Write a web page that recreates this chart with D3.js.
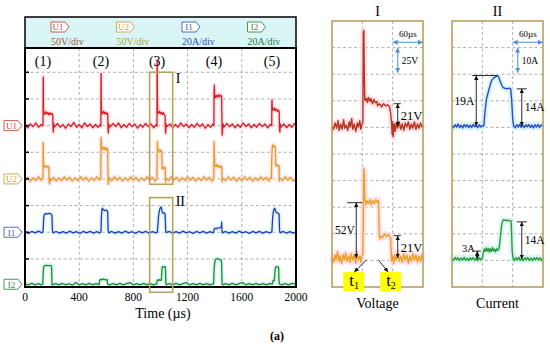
<!DOCTYPE html>
<html>
<head>
<meta charset="utf-8">
<script src="https://cdn.jsdelivr.net/npm/d3@7"></script>
<style>
  body { margin: 0; background: #fff; }
  text { font-family: "Liberation Serif", "Times New Roman", serif; }
</style>
</head>
<body>
<div id="chart"></div>
<script>
// ---- values ----
const channels = ["U1", "U2", "I1", "I2"];
const channelDiv = ["50V/div", "50V/div", "20A/div", "20A/div"];
const channelPerDiv = [50, 50, 20, 20];
const pulseLabels = ["(1)", "(2)", "(3)", "(4)", "(5)"];
const pulseTimes = [133, 561, 975, 1395, 1823];
const timeTicks = [0, 400, 800, 1200, 1600, 2000];

// overview traces: [time in µs, V or A]
const u1 = [
  [0,1],[20,-4],[40,3],[60,-2],[80,5],[100,-3],[120,2],[130,-1],[133,3],[134,88],[135,91],[136,40],[138,24],[145,21],[152,26],[160,22],[168,25],[176,20],[184,24],[192,21],[200,23],[205,19],[207,-6],[209,-12],[212,4],[216,-3],
  [240,4],[260,-3],[280,2],[300,-5],[320,3],[340,-2],[360,6],[380,-3],[400,2],[420,-4],[440,5],[460,-2],[480,3],[500,-4],[520,2],[540,-3],
  [556,2],[560,-1],[561,96],[562,98],[563,45],[565,25],[572,22],[580,27],[588,22],[596,25],[604,21],[610,23],[613,-8],[615,-14],[618,3],[624,-3],
  [650,4],[670,-2],[690,5],[710,-4],[730,2],[750,-3],[770,4],[790,-2],[810,3],[830,-5],[850,2],[870,-3],[890,4],[910,-2],[930,3],[950,-4],[968,2],
  [974,-1],[975,118],[976,121],[977,60],[979,26],[986,23],[993,27],[1000,22],[1008,25],[1015,21],[1022,24],[1030,20],[1034,18],[1036,-9],[1038,-14],[1041,3],[1046,-2],
  [1070,3],[1090,-4],[1110,2],[1130,-3],[1150,5],[1170,-2],[1190,3],[1210,-4],[1230,2],[1250,-3],[1270,4],[1290,-2],[1310,3],[1330,-5],[1350,2],[1370,-3],[1388,3],
  [1394,0],[1395,60],[1397,76],[1399,58],[1405,52],[1412,57],[1420,53],[1428,58],[1436,54],[1444,57],[1451,55],[1453,20],[1455,-18],[1458,-10],[1462,3],[1468,-3],
  [1490,4],[1510,-2],[1530,3],[1550,-4],[1570,2],[1590,-3],[1610,5],[1630,-2],[1650,3],[1670,-4],[1690,2],[1710,-3],[1730,4],[1750,-2],[1770,3],[1790,-4],[1810,2],
  [1821,0],[1822,44],[1823,48],[1825,32],[1832,29],[1840,33],[1848,28],[1856,31],[1864,27],[1872,29],[1876,26],[1878,-6],[1881,-12],[1884,3],[1890,-3],
  [1910,3],[1930,-4],[1950,2],[1970,-3],[1990,4],[2000,0]
];
const u2 = [
  [0,-2],[20,3],[40,-4],[60,2],[80,-3],[100,4],[120,-2],[131,1],[133,2],[134,66],[135,68],[136,30],[138,22],[146,25],[154,21],[162,24],[170,22],[176,23],[178,-4],[181,-9],[184,2],[190,-3],
  [210,3],[230,-4],[250,2],[270,-3],[290,4],[310,-2],[330,3],[350,-4],[370,2],[390,-3],[410,4],[430,-2],[450,3],[470,-4],[490,2],[510,-3],[530,4],[550,-2],
  [559,1],[561,75],[562,78],[564,62],[568,56],[575,60],[582,55],[590,59],[598,54],[606,58],[610,55],[612,15],[614,-10],[617,-4],[622,2],
  [640,-3],[660,4],[680,-2],[700,3],[720,-4],[740,2],[760,-3],[780,4],[800,-2],[820,3],[840,-4],[860,2],[880,-3],[900,4],[920,-2],[940,3],[960,-4],
  [973,1],[975,30],[977,70],[979,60],[981,53],[988,55],[995,50],[1002,54],[1009,51],[1011,30],[1013,19],[1018,22],[1025,19],[1032,22],[1035,18],[1037,-6],[1040,2],
  [1060,-3],[1080,4],[1100,-2],[1120,3],[1140,-4],[1160,2],[1180,-3],[1200,4],[1220,-2],[1240,3],[1260,-4],[1280,2],[1300,-3],[1320,4],[1340,-2],[1360,3],[1380,-4],
  [1393,1],[1395,50],[1396,70],[1398,40],[1400,26],[1408,23],[1416,27],[1424,22],[1432,25],[1440,21],[1448,24],[1453,22],[1455,-5],[1458,2],
  [1480,-3],[1500,4],[1520,-2],[1540,3],[1560,-4],[1580,2],[1600,-3],[1620,4],[1640,-2],[1660,3],[1680,-4],[1700,2],[1720,-3],[1740,4],[1760,-2],[1780,3],[1800,-4],[1812,2],
  [1819,1],[1821,35],[1824,58],[1828,64],[1834,60],[1842,62],[1848,58],[1850,30],[1852,24],[1860,27],[1868,23],[1875,25],[1877,-4],[1880,2],
  [1900,-3],[1920,4],[1940,-2],[1960,3],[1980,-4],[2000,1]
];
const i1 = [
  [0,0.5],[25,-0.8],[50,0.6],[75,-0.5],[100,0.8],[125,-0.4],[133,0.3],[135,4],[137,8.5],[139,11.5],[142,13],[147,13.8],[155,14],[165,13.8],[175,14.2],[185,13.9],[195,13.6],[199,12.5],[201,5],[203,1],[207,-0.5],
  [230,0.6],[255,-0.7],[280,0.5],[305,-0.6],[330,0.8],[355,-0.5],[380,0.4],[405,-0.8],[430,0.6],[455,-0.4],[480,0.7],[505,-0.6],[530,0.5],[550,-0.5],
  [560,0.2],[562,5],[564,11],[566,15],[569,17.5],[572,18],[576,17],[585,16.3],[595,16.6],[605,16.2],[610,15.5],[612,6],[614,1],[618,-0.4],
  [640,0.6],[665,-0.7],[690,0.5],[715,-0.6],[740,0.8],[765,-0.5],[790,0.4],[815,-0.8],[840,0.6],[865,-0.4],[890,0.7],[915,-0.6],[940,0.5],[965,-0.5],
  [977,0.3],[980,4],[984,10],[988,14],[994,17],[1000,18.5],[1005,19],[1009,17.5],[1013,15],[1020,14.3],[1028,14.6],[1033,14],[1036,8],[1038,1.5],[1042,-0.3],
  [1065,0.6],[1090,-0.7],[1115,0.5],[1140,-0.6],[1165,0.8],[1190,-0.5],[1215,0.4],[1240,-0.8],[1265,0.6],[1290,-0.4],[1315,0.7],[1340,-0.6],[1365,0.5],[1388,-0.5],
  [1393,0.4],[1396,2.5],[1402,3],[1412,2.6],[1422,3.4],[1432,3],[1442,3.6],[1449,4],[1451,7.5],[1453,3],[1456,-0.5],
  [1480,0.6],[1505,-0.7],[1530,0.5],[1555,-0.6],[1580,0.8],[1605,-0.5],[1630,0.4],[1655,-0.8],[1680,0.6],[1705,-0.4],[1730,0.7],[1755,-0.6],[1780,0.5],[1805,-0.5],
  [1822,0.3],[1825,6],[1828,11],[1832,15],[1837,17],[1842,18],[1847,17],[1853,15],[1861,14.5],[1869,14.2],[1875,13.8],[1877,6],[1879,1],[1883,-0.4],
  [1905,0.6],[1930,-0.7],[1955,0.5],[1980,-0.6],[2000,0.3]
];
const i2 = [
  [0,0.3],[25,-0.5],[50,0.6],[75,-0.4],[100,0.5],[120,-0.5],[131,0.2],[133,5],[135,10],[138,13],[145,14],[160,14.2],[175,14],[190,14.1],[196,13.3],[198,6],[199,0],[201,-0.5],
  [225,0.5],[250,-0.4],[275,0.6],[300,-0.5],[325,0.4],[350,-0.6],[375,1.2],[400,-0.4],[425,0.5],[450,-0.5],[475,0.6],[500,-0.4],[525,0.5],[545,-0.3],
  [548,0.3],[551,3],[560,3.8],[570,3.3],[580,4],[590,3.5],[600,3.2],[606,3.6],[609,0.2],
  [625,-0.5],[650,0.5],[675,-0.4],[700,0.6],[725,-0.5],[750,0.4],[775,1.2],[800,-0.4],[825,0.5],[850,-0.5],[875,0.6],[900,-0.4],[925,0.5],[950,-0.5],[970,0.4],
  [972,0.2],[975,2.5],[980,3.4],[987,2.7],[994,3.5],[1001,2.9],[1007,3.2],[1009,8],[1012,12.5],[1016,13.3],[1024,13],[1032,13.2],[1036,12.8],[1038,6],[1040,0.3],[1043,-0.3],
  [1065,0.5],[1090,-0.4],[1115,0.6],[1140,-0.5],[1165,0.4],[1190,1.2],[1215,-0.4],[1240,0.5],[1265,-0.5],[1290,0.6],[1315,-0.4],[1340,0.5],[1365,-0.5],[1385,0.4],
  [1392,0.3],[1394,7],[1397,13],[1401,17],[1408,18.8],[1420,19.2],[1435,18.7],[1446,18.2],[1451,16],[1453,6],[1455,0],[1458,-0.4],
  [1480,0.5],[1505,-0.4],[1530,0.6],[1555,-0.5],[1580,0.4],[1605,1.2],[1630,-0.4],[1655,0.5],[1680,-0.5],[1705,0.6],[1730,-0.4],[1755,0.5],[1780,-0.5],[1805,0.4],
  [1826,0.3],[1829,2.5],[1835,3],[1840,2.7],[1843,7],[1846,11],[1850,12.8],[1858,13.2],[1866,13],[1872,12.5],[1874,4],[1876,0.2],
  [1895,-0.4],[1920,0.5],[1945,-0.5],[1970,0.6],[2000,0.2]
];

// zoomed windows, time relative to t1 (µs)
const zoomTitles = ["I", "II"];
const zoomFooters = ["Voltage", "Current"];
const zoomPerDiv = [25, 10];
const zoomUnits = ["V", "A"];
const zoomTimeDiv = 60;
const zoomU1 = [
  [-60,0],[-57,-3],[-54,3],[-51,-2],[-48,5],[-46,-4],[-43,2],[-40,-3],[-37,6],[-35,-2],[-32,1],[-29,-4],[-26,4],[-24,-1],[-21,7],[-19,-3],[-16,2],[-13,-5],[-10,3],[-8,-1],[-5,5],[-3,-3],[-1,1],
  [1,4],[2,88],[3,90],[4,45],[5,24],[8,26],[10,22],[12,27],[15,23],[17,26],[20,21],[23,25],[26,22],[29,23],[30,19],[34,21],[38,18],[42,21],[46,19],[50,20],[54,18],[56,12],[58,2],[59,-8],[60,4],[61,-10],[63,2],
  [65,-5],[67,3],[70,-2],[73,4],[76,-3],[79,2],[82,-4],[85,3],[88,-1],[91,4],[94,-3],[97,2],[100,-2],[103,4],[106,-3],[109,2],[112,-2],[115,3],[118,-1],[120,1]
];
const zoomU2 = [
  [-60,1],[-57,-4],[-54,3],[-52,-2],[-49,6],[-46,-3],[-44,2],[-41,-5],[-38,3],[-35,-2],[-33,5],[-30,-3],[-27,2],[-24,-4],[-22,4],[-19,-2],[-16,3],[-13,-5],[-11,6],[-8,-2],[-5,2],[-3,-4],[-1,2],
  [1,3],[2,40],[3,84],[4,76],[5,56],[7,50],[9,54],[12,51],[15,55],[18,50],[21,54],[24,51],[27,55],[30,52],[32,54],[33,30],[34,18],[36,21],[40,19],[44,23],[48,20],[52,22],[56,19],[57,8],[58,-3],[60,2],
  [62,-5],[64,3],[67,-2],[70,5],[73,-3],[76,2],[79,-4],[82,4],[85,-2],[88,3],[91,-5],[94,2],[97,-3],[100,4],[103,-2],[106,3],[109,-4],[112,2],[115,-3],[118,3],[120,0]
];
const zoomI1 = [
  [-60,0.3],[-57,-0.6],[-54,0.5],[-51,-0.4],[-48,0.8],[-45,-0.5],[-42,0.3],[-39,-0.7],[-36,0.6],[-33,-0.3],[-30,0.5],[-27,-0.6],[-24,0.4],[-21,-0.5],[-18,0.7],[-15,-0.3],[-12,0.4],[-9,-0.6],[-6,0.5],[-3,-0.4],[0,0.2],
  [3,0],[5,5],[8,10],[12,13],[15,15],[18,17],[22,18],[26,18.5],[30,19],[32,18.5],[35,17],[38,15.5],[41,14.5],[45,14.2],[49,14],[53,14.3],[56,14],[58,10],[60,3],[62,0],
  [65,-0.6],[68,0.5],[71,-0.4],[74,0.7],[77,-0.5],[80,0.4],[83,-0.6],[86,0.5],[89,-0.3],[92,0.6],[95,-0.5],[98,0.4],[101,-0.7],[104,0.5],[107,-0.4],[110,0.6],[113,-0.5],[116,0.4],[120,0]
];
const zoomI2 = [
  [-60,0.2],[-57,-0.5],[-54,0.6],[-51,-0.3],[-48,0.5],[-45,-0.6],[-42,0.4],[-39,-0.4],[-36,0.7],[-33,-0.5],[-30,0.3],[-27,-0.6],[-24,0.5],[-21,-0.3],[-18,0.6],[-15,-0.5],[-12,0.4],[-9,-0.6],[-6,0.5],[-3,-0.3],[0,0.3],
  [2,2.5],[4,3.8],[6,2.8],[8,4.2],[10,3],[12,4],[14,2.6],[16,3.9],[18,2.9],[20,4.3],[22,3.1],[24,3.7],[26,2.7],[28,4],[30,3.2],[32,3.5],[34,5],[36,9],[38,12.5],[40,14.2],[42,14.8],[46,14.5],[50,14.6],[54,14.4],[57,14.3],[58,9],[59,3],[61,0.2],
  [63,-0.6],[66,0.5],[69,-0.4],[72,0.7],[75,-0.5],[78,0.3],[81,-0.6],[84,0.5],[87,-0.3],[90,0.6],[93,-0.5],[96,0.4],[99,-0.6],[102,0.5],[105,-0.3],[108,0.6],[111,-0.4],[114,0.5],[117,-0.5],[120,0.3]
];
// measured levels marked on the zoom windows
const u1Step = 21, u2Peak = 52, u2Step = 21;
const i1Peak = 19, i1Step = 14, i2Pre = 3, i2Step = 14;

// ---- drawing ----
const svg = d3.select("#chart").append("svg")
    .attr("width", 550).attr("height", 349);

const defs = svg.append("defs");
[["arrK", "#111"], ["arrB", "#4a90d8"]].forEach(([id, c]) => {
  defs.append("marker").attr("id", id)
      .attr("viewBox", "0 0 10 10").attr("refX", 10).attr("refY", 5)
      .attr("markerWidth", 5).attr("markerHeight", 5)
      .attr("orient", "auto-start-reverse")
    .append("path").attr("d", "M0,0L10,5L0,10z").attr("fill", c);
});

function tagPath(x, y, w, h) {
  return `M${x},${y}h${w - 4}l4,${h / 2}l-4,${h / 2}h${-(w - 4)}z`;
}

const traceColor = ["#d81e1e", "#e0a01c", "#2438b8", "#1f8a2a"];
const haloColor = ["#ffd9e6", "#ffd9e6", "#cbf3f0", "#cbf3f0"];
const tagColor = ["#c0503a", "#cfa24a", "#4060b8", "#3a8a4a"];
const legendTextColor = ["#9a5a3a", "#b0a040", "#3050b0", "#2a7a4a"];

// overview scope
const x = d3.scaleLinear().domain([0, 2000]).range([25, 296]);
const y = d3.scaleLinear().domain([0, 9]).range([285.6, 45.6]);
const baseDiv = [6, 4, 2, 0.05];
const traces = [u1, u2, i1, i2];

svg.append("rect").attr("x", 25).attr("y", 17).attr("width", 271).attr("height", 31)
    .attr("fill", "#d9f5f5").attr("stroke", "#000").attr("stroke-width", 1.5);

const leg = svg.append("g").selectAll("g").data(channels).join("g")
    .attr("transform", (d, i) => `translate(${51 + i * 65.5},22)`);
leg.append("path").attr("d", tagPath(0, 0, 18, 10))
    .attr("fill", "#fff").attr("stroke", (d, i) => tagColor[i]).attr("stroke-width", 0.9);
leg.append("text").attr("x", 7).attr("y", 8.3).attr("text-anchor", "middle")
    .attr("font-size", 9).attr("fill", (d, i) => tagColor[i]).text(d => d);
leg.append("text").attr("x", 0).attr("y", 23).attr("font-size", 10)
    .attr("fill", (d, i) => legendTextColor[i]).text((d, i) => channelDiv[i]);

const plot = svg.append("g");
defs.append("clipPath").attr("id", "clipMain")
  .append("rect").attr("x", 25).attr("y", 48).attr("width", 271).attr("height", 239);

plot.selectAll(".vg").data(timeTicks.slice(1, -1)).join("line")
    .attr("x1", d => x(d)).attr("x2", d => x(d)).attr("y1", 48).attr("y2", 287)
    .attr("stroke", "#9a9a9a").attr("stroke-width", 0.8).attr("stroke-dasharray", "3,2.5");
plot.selectAll(".hg").data(d3.range(1, 9)).join("line")
    .attr("x1", 25).attr("x2", 296).attr("y1", d => y(d)).attr("y2", d => y(d))
    .attr("stroke", "#9a9a9a").attr("stroke-width", 0.8).attr("stroke-dasharray", "3,2.5");

const traceG = plot.append("g").attr("clip-path", "url(#clipMain)");
traces.forEach((tr, i) => {
  const line = d3.line().x(d => x(d[0])).y(d => y(baseDiv[i] + d[1] / channelPerDiv[i]));
  traceG.append("path").attr("d", line(tr)).attr("fill", "none")
      .attr("stroke", haloColor[i]).attr("stroke-width", 4.5).attr("opacity", 0.7)
      .attr("stroke-linejoin", "round");
});
traces.forEach((tr, i) => {
  const line = d3.line().x(d => x(d[0])).y(d => y(baseDiv[i] + d[1] / channelPerDiv[i]));
  traceG.append("path").attr("d", line(tr)).attr("fill", "none")
      .attr("stroke", traceColor[i]).attr("stroke-width", 1.3).attr("stroke-linejoin", "round");
});

// left ticks
plot.selectAll(".tk").data(d3.range(1, 9)).join("line")
    .attr("x1", 25).attr("x2", 29).attr("y1", d => y(d)).attr("y2", d => y(d))
    .attr("stroke", "#000").attr("stroke-width", 1.5);

plot.append("rect").attr("x", 25).attr("y", 48).attr("width", 271).attr("height", 239)
    .attr("fill", "none").attr("stroke", "#000").attr("stroke-width", 2);

// channel markers on the left
const tags = svg.append("g").selectAll("g").data(channels).join("g")
    .attr("transform", (d, i) => `translate(4,${y(baseDiv[i]) - 5})`);
tags.append("path").attr("d", tagPath(0, 0, 18, 10))
    .attr("fill", "#fff").attr("stroke", (d, i) => tagColor[i]).attr("stroke-width", 0.9);
tags.append("text").attr("x", 7.5).attr("y", 8.3).attr("text-anchor", "middle")
    .attr("font-size", 9).attr("fill", (d, i) => tagColor[i]).text(d => d);

// pulse numbers
svg.selectAll(".pl").data(pulseLabels).join("text")
    .attr("x", (d, i) => x(pulseTimes[i])).attr("y", 66)
    .attr("text-anchor", "middle").attr("font-size", 14).text(d => d);

// zoom boxes
const boxColor = "#b9a160";
[[3.8, 8, "I", 7.6], [-0.25, 3.3, "II", 3.0]].forEach(([lo, hi, lab, ly]) => {
  svg.append("rect").attr("x", x(920)).attr("y", y(hi))
      .attr("width", x(1090) - x(920)).attr("height", y(lo) - y(hi))
      .attr("fill", "none").attr("stroke", boxColor).attr("stroke-width", 1.6);
  svg.append("text").attr("x", x(1090) + 3).attr("y", y(ly)).attr("font-size", 14).text(lab);
});

// x axis labels
svg.selectAll(".xt").data(timeTicks).join("text")
    .attr("x", d => x(d)).attr("y", 301).attr("text-anchor", "middle")
    .attr("font-size", 11.5).text(d => d);
svg.append("text").attr("x", 163).attr("y", 318).attr("text-anchor", "middle")
    .attr("font-size", 14).text("Time (\u00b5s)");
svg.append("text").attr("x", 277).attr("y", 340).attr("text-anchor", "middle")
    .attr("font-size", 12).attr("font-weight", "bold").text("(a)");

// zoom windows
const px = d3.scaleLinear().domain([-zoomTimeDiv, 2 * zoomTimeDiv]).range([0, 91]);
const py = d3.scaleLinear().domain([0, 10]).range([287, 21]);
const panelLeft = [332, 452];
const panelTraces = [
  [[zoomU1, 6.05, "#b8321c", "#ffd9e6"], [zoomU2, 1.09, "#ef9f22", "#ffd9e6"]],
  [[zoomI1, 6.05, "#2c48c8", "#cbf3f0"], [zoomI2, 1.05, "#2a9a3a", "#cbf3f0"]]
];

function dim(g, t, base, level, c0, c1) {
  const yb = py(base), yt = py(base + level);
  g.append("line").attr("x1", px(c0)).attr("x2", px(c1)).attr("y1", yt).attr("y2", yt)
      .attr("stroke", "#111").attr("stroke-width", 0.9);
  g.append("line").attr("x1", px(t)).attr("x2", px(t)).attr("y1", yt).attr("y2", yb)
      .attr("stroke", "#111").attr("stroke-width", 0.9)
      .attr("marker-start", "url(#arrK)").attr("marker-end", "url(#arrK)");
}

panelLeft.forEach((left, p) => {
  const g = svg.append("g").attr("transform", `translate(${left},0)`);
  const perDiv = zoomPerDiv[p];
  g.append("rect").attr("x", 0).attr("y", 21).attr("width", 91).attr("height", 266).attr("fill", "#fff");
  g.selectAll(".vg").data([0, zoomTimeDiv]).join("line")
      .attr("x1", d => px(d)).attr("x2", d => px(d)).attr("y1", 21).attr("y2", 287)
      .attr("stroke", "#9a9a9a").attr("stroke-width", 0.8).attr("stroke-dasharray", "3,2.5");
  g.selectAll(".hg").data(d3.range(1, 10)).join("line")
      .attr("x1", 0).attr("x2", 91).attr("y1", d => py(d)).attr("y2", d => py(d))
      .attr("stroke", "#9a9a9a").attr("stroke-width", 0.8).attr("stroke-dasharray", "3,2.5");

  panelTraces[p].forEach(([data, off, col, halo]) => {
    const line = d3.line().x(d => px(d[0])).y(d => py(off + d[1] / perDiv));
    g.append("path").attr("d", line(data)).attr("fill", "none")
        .attr("stroke", halo).attr("stroke-width", 6).attr("opacity", 0.75)
        .attr("stroke-linejoin", "round");
  });
  panelTraces[p].forEach(([data, off, col]) => {
    const line = d3.line().x(d => px(d[0])).y(d => py(off + d[1] / perDiv));
    g.append("path").attr("d", line(data)).attr("fill", "none")
        .attr("stroke", col).attr("stroke-width", 1.4).attr("stroke-linejoin", "round");
  });

  g.append("rect").attr("x", 0).attr("y", 21).attr("width", 91).attr("height", 266)
      .attr("fill", "none").attr("stroke", boxColor).attr("stroke-width", 1.6);

  // scale hints (one division each way)
  g.append("line").attr("x1", px(zoomTimeDiv)).attr("x2", px(2 * zoomTimeDiv))
      .attr("y1", py(9.2)).attr("y2", py(9.2)).attr("stroke", "#4a90d8").attr("stroke-width", 1)
      .attr("marker-start", "url(#arrB)").attr("marker-end", "url(#arrB)");
  g.append("text").attr("x", px(90)).attr("y", py(9.4)).attr("text-anchor", "middle")
      .attr("font-size", 9).text(zoomTimeDiv + "\u00b5s");
  g.append("line").attr("x1", px(zoomTimeDiv + 10)).attr("x2", px(zoomTimeDiv + 10))
      .attr("y1", py(9)).attr("y2", py(8.05)).attr("stroke", "#4a90d8").attr("stroke-width", 1)
      .attr("marker-start", "url(#arrB)").attr("marker-end", "url(#arrB)");
  g.append("text").attr("x", px(zoomTimeDiv + 18)).attr("y", py(8.38))
      .attr("font-size", 9.5).text(perDiv + zoomUnits[p]);

  g.append("text").attr("x", 45.5).attr("y", 16).attr("text-anchor", "middle")
      .attr("font-size", 14).text(zoomTitles[p]);
  g.append("text").attr("x", 45.5).attr("y", 308).attr("text-anchor", "middle")
      .attr("font-size", 14).text(zoomFooters[p]);

  if (p === 0) {
    dim(g, 70, 6.05, u1Step / perDiv, 62, 76);
    g.append("text").attr("x", px(76)).attr("y", py(6.05 + 0.42) + 5).attr("font-size", 12.5).text(u1Step + "V");
    dim(g, -12, 1.09, u2Peak / perDiv, -30, 0);
    g.append("text").attr("x", px(-15)).attr("y", py(1.09 + 1.05) + 4).attr("text-anchor", "end")
        .attr("font-size", 11.5).text(u2Peak + "V");
    dim(g, 70, 1.09, u2Step / perDiv, 62, 76);
    g.append("text").attr("x", px(76)).attr("y", py(1.09 + 0.42) + 5).attr("font-size", 12.5).text(u2Step + "V");
    // t1 / t2 markers
    [[-18, 8, "1"], [55, 32, "2"]].forEach(([tc, ts, sub]) => {
      g.append("rect").attr("x", px(tc) - 10).attr("y", 272).attr("width", 21).attr("height", 19)
          .attr("fill", "#ffff00");
      const tx = g.append("text").attr("x", px(tc) - 4).attr("y", 286).attr("font-size", 17).text("t");
      tx.append("tspan").attr("font-size", 10).attr("dy", 3).text(sub);
      g.append("line").attr("x1", px(ts)).attr("y1", 260).attr("x2", px(tc + (tc < 0 ? 2 : -4))).attr("y2", 272)
          .attr("stroke", "#111").attr("stroke-width", 0.9).attr("marker-end", "url(#arrK)");
    });
  } else {
    dim(g, -12, 6.05, i1Peak / perDiv, -20, 29);
    g.append("text").attr("x", px(-16)).attr("y", py(6.05 + 0.95) + 4).attr("text-anchor", "end")
        .attr("font-size", 11.5).text(i1Peak + "A");
    dim(g, 78, 6.05, i1Step / perDiv, 68, 88);
    g.append("text").attr("x", px(84)).attr("y", py(6.05 + 0.72) + 4).attr("font-size", 11.5).text(i1Step + "A");
    dim(g, -10, 1.05, i2Pre / perDiv, -16, -3);
    g.append("text").attr("x", px(-15)).attr("y", py(1.05 + 0.3) + 1).attr("text-anchor", "end")
        .attr("font-size", 10.5).text(i2Pre + "A");
    dim(g, 78, 1.05, i2Step / perDiv, 68, 88);
    g.append("text").attr("x", px(84)).attr("y", py(1.05 + 0.7) + 4).attr("font-size", 11.5).text(i2Step + "A");
  }
});
</script>
</body>
</html>
